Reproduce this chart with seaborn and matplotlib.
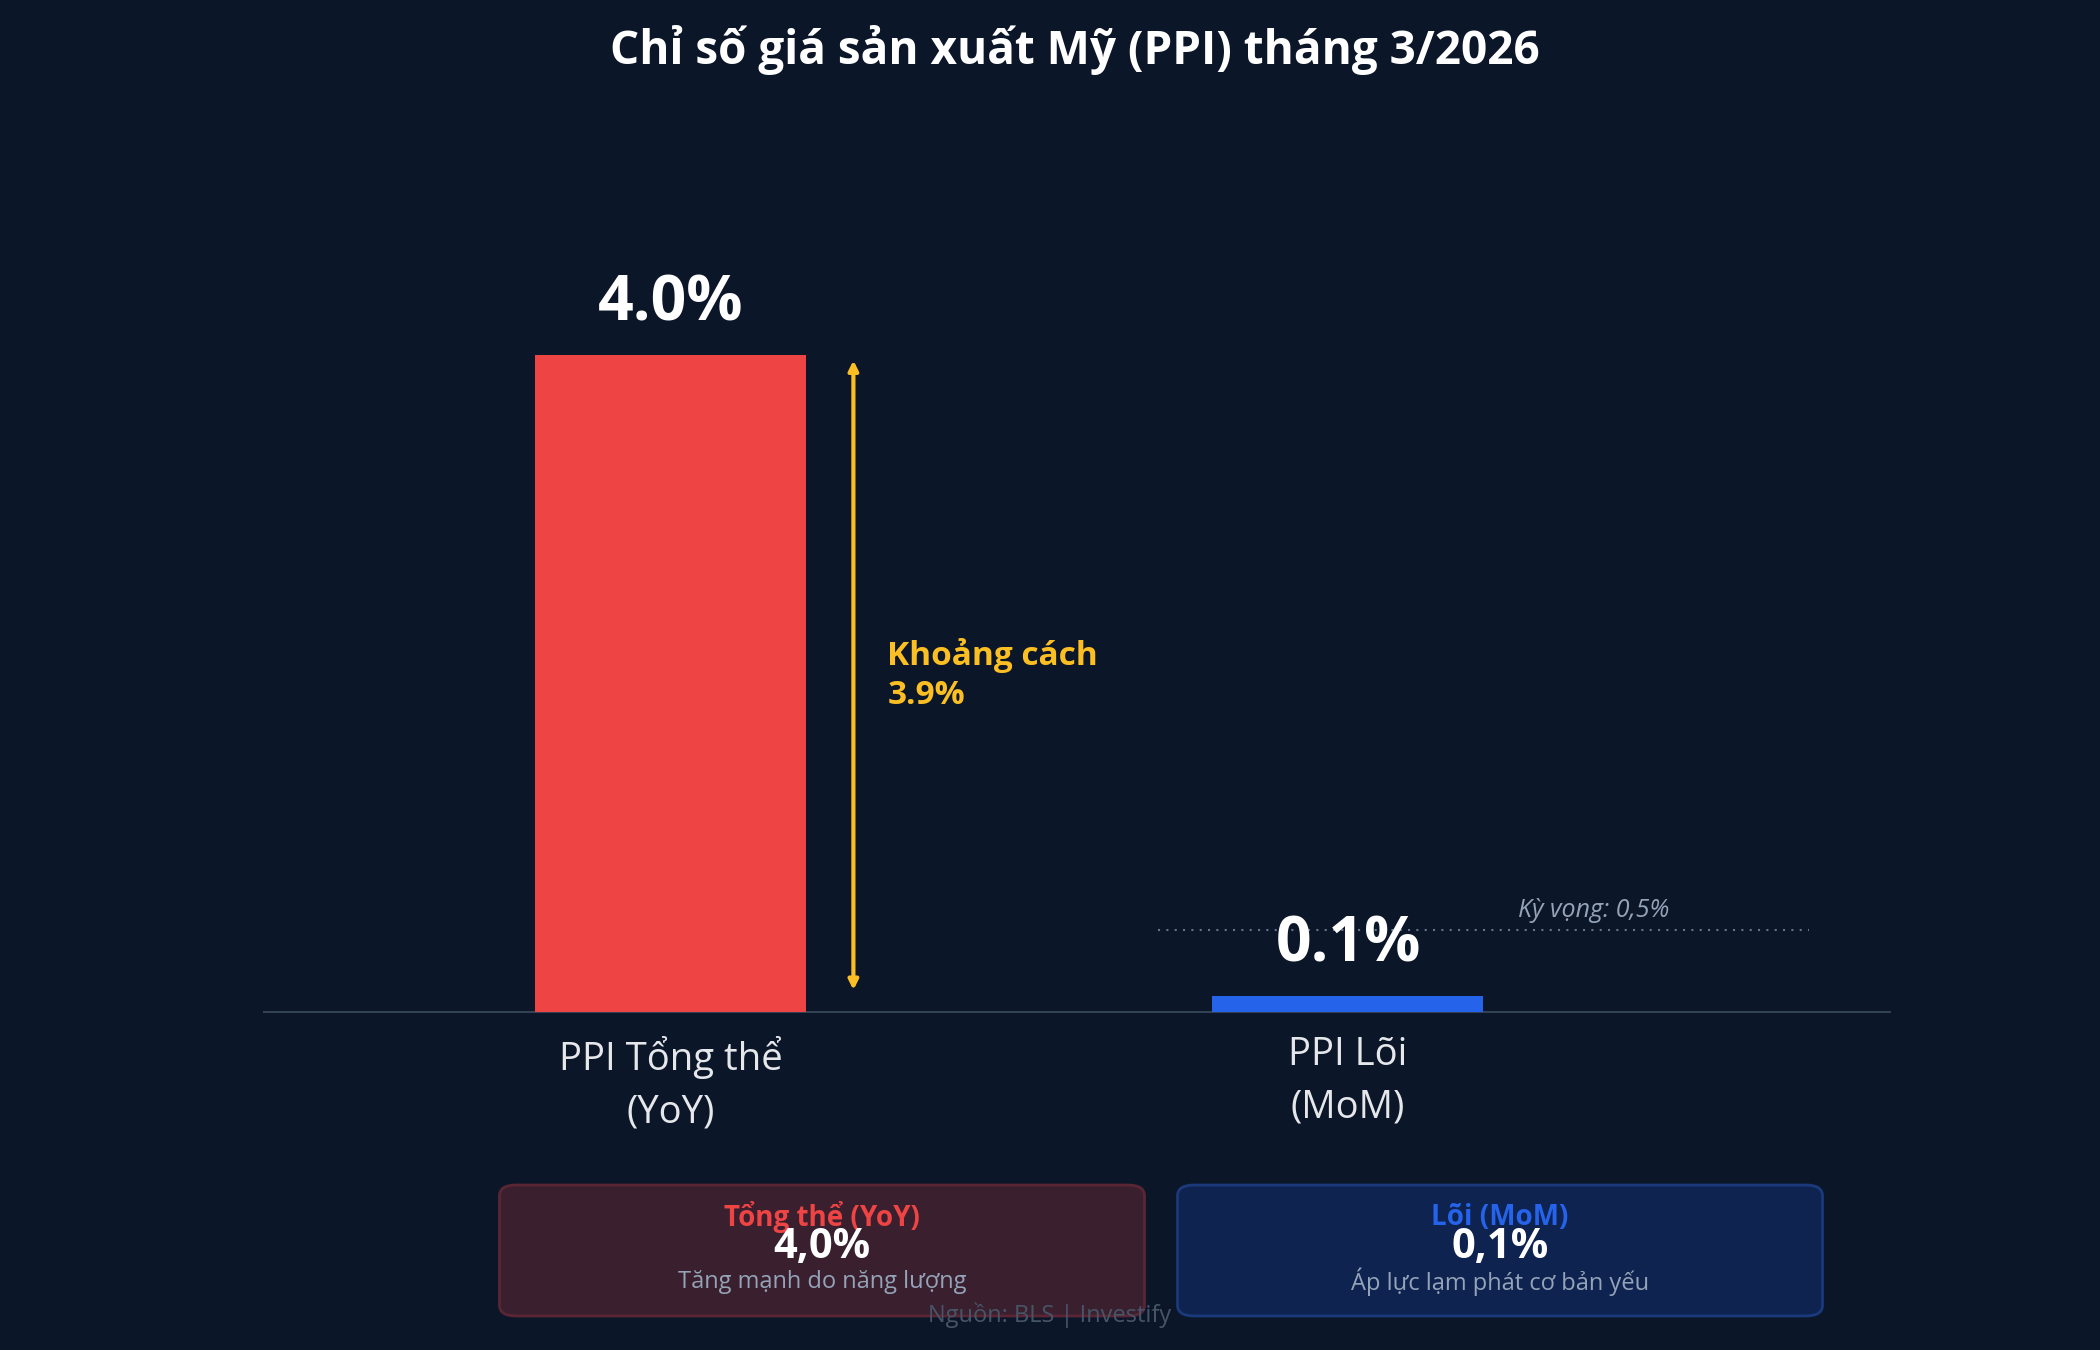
import matplotlib
matplotlib.use("Agg")
import matplotlib.pyplot as plt
from matplotlib.patches import FancyBboxPatch
from matplotlib import font_manager
import seaborn as sns
import pandas as pd

# ---- data ----
categories = ["PPI Tổng thể\n(YoY)", "PPI Lõi\n(MoM)"]
values = [4.0, 0.1]
value_labels = ["4.0%", "0.1%"]
bar_colors = ["#ef4444", "#2563eb"]
expectation = 0.5
expectation_label = "Kỳ vọng: 0,5%"
gap_label = "Khoảng cách\n3.9%"
title = "Chỉ số giá sản xuất Mỹ (PPI) tháng 3/2026"
box_titles = ["Tổng thể (YoY)", "Lõi (MoM)"]
box_values = ["4,0%", "0,1%"]
box_notes = ["Tăng mạnh do năng lượng", "Áp lực lạm phát cơ bản yếu"]
source = "Nguồn: BLS | Investify"

BG = "#0b1629"

sns.set_theme(style="white")

# pick a family that has a real bold face
fam = "Noto Sans"
for cand in ["Noto Sans", "Open Sans", "Lato", "Roboto"]:
    try:
        fp = font_manager.findfont(font_manager.FontProperties(family=cand, weight="bold"),
                                   fallback_to_default=False)
        if "bold" in fp.lower():
            fam = cand
            break
    except Exception:
        pass
plt.rcParams["font.family"] = [fam, "DejaVu Sans"]

fig = plt.figure(figsize=(21, 13.5), dpi=100, facecolor=BG)
ax = fig.add_axes([0.1257, 0.2504, 0.7743, 0.5597])
ax.set_facecolor(BG)

df = pd.DataFrame({"cat": categories, "val": values})
sns.barplot(data=df, x="cat", y="val", hue="cat", palette=bar_colors,
            width=0.4, saturation=1, legend=False, ax=ax, zorder=3,
            edgecolor="none", linewidth=0)

ax.set_xlim(-0.6, 1.8)
ax.set_ylim(0, 4.6)
ax.set_xlabel("")
ax.set_ylabel("")
ax.set_yticks([])
for s in ["top", "right", "left"]:
    ax.spines[s].set_visible(False)
ax.spines["bottom"].set_color("#334155")
ax.spines["bottom"].set_linewidth(1.5)
ax.tick_params(axis="x", length=0, pad=17, labelsize=27.5, labelcolor="#e5e7eb")
for t in ax.get_xticklabels():
    t.set_linespacing(1.5)

# value labels
for i, (v, lab) in enumerate(zip(values, value_labels)):
    ax.text(i, v + 0.31, lab, ha="center", va="center", fontsize=45,
            fontweight="bold", color="white", zorder=5)

# expectation line
ax.plot([0.72, 1.68], [expectation, expectation], linestyle=(0, (1, 3)),
        color="#64748b", lw=1.5, zorder=2)
ax.text(1.363, expectation + 0.115, expectation_label, ha="center", va="center",
        fontsize=18, fontstyle="italic", color="#94a3b8")

# gap arrow
ax.annotate("", xy=(0.27, values[0]), xytext=(0.27, values[1]),
            arrowprops=dict(arrowstyle="<|-|>", color="#fbbf24", lw=3,
                            mutation_scale=14, shrinkA=4, shrinkB=4))
ax.text(0.32, 2.05, gap_label, ha="left", va="center", fontsize=24,
        fontweight="bold", color="#fbbf24", linespacing=1.25)

# title
fig.text(0.512, 0.963, title, ha="center", va="center", fontsize=33,
         fontweight="bold", color="white")

# bottom boxes
box_specs = [
    (822 / 2100, "#3a1f2e", "#5b2634", "#ef4444"),
    (1500 / 2100, "#0f2350", "#1b3a7c", "#2563eb"),
]
bw = 645 / 2100
for (cx, fc, ec, tc), bt, bv, bn in zip(box_specs, box_titles, box_values, box_notes):
    patch = FancyBboxPatch((cx - bw / 2, 0.0252), bw, 0.097,
                           boxstyle="round,pad=0,rounding_size=0.008",
                           transform=fig.transFigure, facecolor=fc,
                           edgecolor=ec, lw=2, zorder=0)
    fig.patches.append(patch)
    fig.text(cx, 0.0985, bt, ha="center", va="center", fontsize=20,
             fontweight="bold", color=tc)
    fig.text(cx, 0.0757, bv, ha="center", va="center", fontsize=30,
             fontweight="bold", color="white")
    fig.text(cx, 0.0505, bn, ha="center", va="center", fontsize=17,
             color="#94a3b8")

fig.text(0.5, 0.026, source, ha="center", va="center", fontsize=17,
         color="#475569")

fig.savefig("out.png", dpi=100, facecolor=BG)
